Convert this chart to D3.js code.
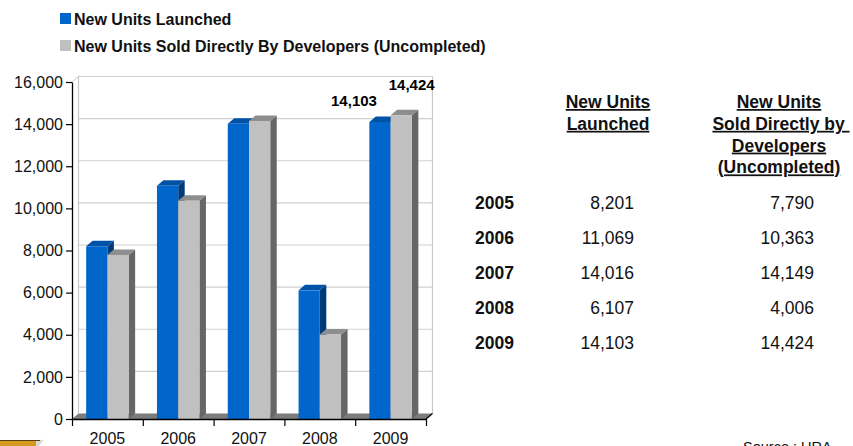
<!DOCTYPE html>
<html>
<head>
<meta charset="utf-8">
<script src="https://cdn.jsdelivr.net/npm/d3@7"></script>
<style>
  html, body { margin: 0; padding: 0; background: #fff; }
  svg { display: block; font-family: "Liberation Sans", Arial, Helvetica, sans-serif; }
</style>
</head>
<body>
<svg id="chart" width="853" height="446"></svg>
<script>
// ---- data ----
const years = ["2005", "2006", "2007", "2008", "2009"];
const launched = [8201, 11069, 14016, 6107, 14103];
const soldUncompleted = [7790, 10363, 14149, 4006, 14424];
const seriesNames = ["New Units Launched", "New Units Sold Directly By Developers (Uncompleted)"];
const yTicks = [0, 2000, 4000, 6000, 8000, 10000, 12000, 14000, 16000];
const tableHeadLaunched = ["New Units", "Launched"];
const tableHeadSold = ["New Units", "Sold Directly by ", "Developers", "(Uncompleted)"];
const labelledYear = "2009";
const sourceText = "Source : URA";

// ---- styles ----
const colors = {
  blue:  { front: "#0066CC", top: "#0052A6", side: "#003A78" },
  gray:  { front: "#C0C0C0", top: "#8E8E8E", side: "#666666" }
};
const fmt = d3.format(",");

const svg = d3.select("#chart");

// ---- plot geometry ----
const plot = { left: 72, right: 426, top: 82, bottom: 419 };
const depth = { dx: 6.5, dy: -5.5 };

const x0 = d3.scaleBand().domain(years).range([plot.left, plot.right])
  .paddingInner(0.4).paddingOuter(0.2);
const x1 = d3.scaleBand().domain(["launched", "sold"]).range([0, x0.bandwidth()]);
const y = d3.scaleLinear().domain([0, 16000]).range([plot.bottom, plot.top]);

// back wall gridlines
const back = svg.append("g");
back.selectAll("line.grid").data(yTicks.slice(1)).join("line")
  .attr("x1", plot.left + depth.dx).attr("x2", plot.right + depth.dx)
  .attr("y1", d => y(d) + depth.dy).attr("y2", d => y(d) + depth.dy)
  .attr("stroke", "#D0D0D0").attr("stroke-width", 1.2);
// back wall edges
back.append("line")
  .attr("x1", plot.left + depth.dx).attr("x2", plot.left + depth.dx)
  .attr("y1", y(16000) + depth.dy).attr("y2", y(0) + depth.dy)
  .attr("stroke", "#C8C8C8").attr("stroke-width", 1.2);
back.append("line")
  .attr("x1", plot.right + depth.dx).attr("x2", plot.right + depth.dx)
  .attr("y1", y(16000) + depth.dy).attr("y2", y(0) + depth.dy)
  .attr("stroke", "#C8C8C8").attr("stroke-width", 1.2);
back.append("line")
  .attr("x1", plot.left).attr("x2", plot.left + depth.dx)
  .attr("y1", y(16000)).attr("y2", y(16000) + depth.dy)
  .attr("stroke", "#C8C8C8").attr("stroke-width", 1);

// floor
svg.append("polygon")
  .attr("points", [
    [plot.left, y(0)], [plot.right, y(0)],
    [plot.right + depth.dx, y(0) + depth.dy], [plot.left + depth.dx, y(0) + depth.dy]
  ].map(p => p.join(",")).join(" "))
  .attr("fill", "#7C7C7C");

// ---- 3D bars ----
function bar3d(g, x, w, v, c) {
  const yt = y(v), yb = y(0);
  const dx = depth.dx, dy = depth.dy;
  // right side
  g.append("polygon")
    .attr("points", [[x + w, yt], [x + w + dx, yt + dy], [x + w + dx, yb + dy], [x + w, yb]]
      .map(p => p.join(",")).join(" "))
    .attr("fill", c.side);
  // top
  g.append("polygon")
    .attr("points", [[x, yt], [x + dx, yt + dy], [x + w + dx, yt + dy], [x + w, yt]]
      .map(p => p.join(",")).join(" "))
    .attr("fill", c.top);
  // front
  g.append("rect")
    .attr("x", x).attr("y", yt).attr("width", w).attr("height", yb - yt)
    .attr("fill", c.front);
}

const bars = svg.append("g");
years.forEach((yr, i) => {
  const g = bars.append("g");
  bar3d(g, x0(yr) + x1("launched"), x1.bandwidth(), launched[i], colors.blue);
  bar3d(g, x0(yr) + x1("sold"), x1.bandwidth(), soldUncompleted[i], colors.gray);
});

// value labels on the latest year
const li = years.indexOf(labelledYear);
svg.append("text")
  .attr("x", x0(labelledYear) + x1("launched") + x1.bandwidth() / 2 - 26)
  .attr("y", y(launched[li]) - 16)
  .attr("text-anchor", "middle").attr("font-size", 15).attr("font-weight", "bold")
  .text(fmt(launched[li]));
svg.append("text")
  .attr("x", x0(labelledYear) + x1("sold") + x1.bandwidth() / 2 + 10.5)
  .attr("y", y(soldUncompleted[li]) - 25)
  .attr("text-anchor", "middle").attr("font-size", 15).attr("font-weight", "bold")
  .text(fmt(soldUncompleted[li]));

// ---- axes ----
const yAxis = svg.append("g")
  .attr("transform", `translate(${plot.left},0)`)
  .call(d3.axisLeft(y).tickValues(yTicks).tickFormat(fmt).tickSize(6).tickPadding(3).tickSizeOuter(0));
yAxis.select(".domain").attr("stroke", "#000").attr("stroke-width", 1.3);
yAxis.selectAll(".tick line").attr("stroke", "#000").attr("stroke-width", 1.2);
yAxis.selectAll(".tick text").attr("font-size", 16).attr("fill", "#111")
  .attr("font-family", "Liberation Sans, Arial, sans-serif");

// boundary ticks along the category axis
const xEdges = d3.scaleLinear().domain([0, years.length]).range([plot.left, plot.right]);
const xTickAxis = svg.append("g")
  .attr("transform", `translate(0,${plot.bottom})`)
  .call(d3.axisBottom(xEdges).tickValues(d3.range(years.length + 1)).tickFormat("").tickSize(7).tickSizeOuter(0));
xTickAxis.select(".domain").attr("stroke", "#000").attr("stroke-width", 1.3);
xTickAxis.selectAll(".tick line").attr("stroke", "#000").attr("stroke-width", 1.2);

// category labels centred in each band
const xLabelAxis = svg.append("g")
  .attr("transform", `translate(0,${plot.bottom})`)
  .call(d3.axisBottom(x0).tickSize(0).tickPadding(14));
xLabelAxis.select(".domain").remove();
xLabelAxis.selectAll(".tick text").attr("font-size", 16).attr("fill", "#111")
  .attr("font-family", "Liberation Sans, Arial, sans-serif");

// floor front-right edge
svg.append("line")
  .attr("x1", plot.right).attr("y1", plot.bottom)
  .attr("x2", plot.right + depth.dx).attr("y2", plot.bottom + depth.dy)
  .attr("stroke", "#000").attr("stroke-width", 1.2);

// ---- legend ----
const legend = svg.append("g");
[colors.blue.front, colors.gray.front].forEach((c, i) => {
  const by = 25 + i * 27;
  legend.append("rect").attr("x", 60).attr("y", by - 12).attr("width", 11).attr("height", 11).attr("fill", c);
  legend.append("text").attr("x", 74).attr("y", by)
    .attr("font-size", 16).attr("font-weight", "bold").attr("fill", "#111")
    .text(seriesNames[i]);
});

// ---- table ----
const table = svg.append("g").attr("font-size", 17.5).attr("fill", "#111");
const headBase = 108, headStep = 21.8;
tableHeadLaunched.forEach((t, i) => {
  table.append("text").attr("x", 608).attr("y", headBase + i * headStep)
    .attr("text-anchor", "middle").attr("font-weight", "bold")
    .style("text-decoration", "underline").style("white-space", "pre")
    .text(t);
});
tableHeadSold.forEach((t, i) => {
  table.append("text").attr("x", t.endsWith(" ") ? 781 : 779).attr("y", headBase + i * headStep)
    .attr("text-anchor", "middle").attr("font-weight", "bold")
    .style("text-decoration", "underline").style("white-space", "pre")
    .text(t);
});
years.forEach((yr, i) => {
  const by = 209 + i * 35;
  table.append("text").attr("x", 475).attr("y", by).attr("font-weight", "bold").text(yr);
  table.append("text").attr("x", 634).attr("y", by).attr("text-anchor", "end").text(fmt(launched[i]));
  table.append("text").attr("x", 814).attr("y", by).attr("text-anchor", "end").text(fmt(soldUncompleted[i]));
});

// ---- source note ----
svg.append("text").attr("x", 743).attr("y", 452).attr("font-size", 14.5).attr("fill", "#111")
  .text(sourceText);

// ---- corner emblem ----
const emb = svg.append("g");
emb.append("rect").attr("x", 0).attr("y", 441).attr("width", 37).attr("height", 5).attr("fill", "#D49A1E");
emb.append("polygon").attr("points", "36,441 44,439.5 39,446 36,446").attr("fill", "#D8D8D8");
emb.append("line").attr("x1", 0).attr("x2", 40).attr("y1", 440.5).attr("y2", 440.5)
  .attr("stroke", "#5A3C12").attr("stroke-width", 1.2);
</script>
</body>
</html>
